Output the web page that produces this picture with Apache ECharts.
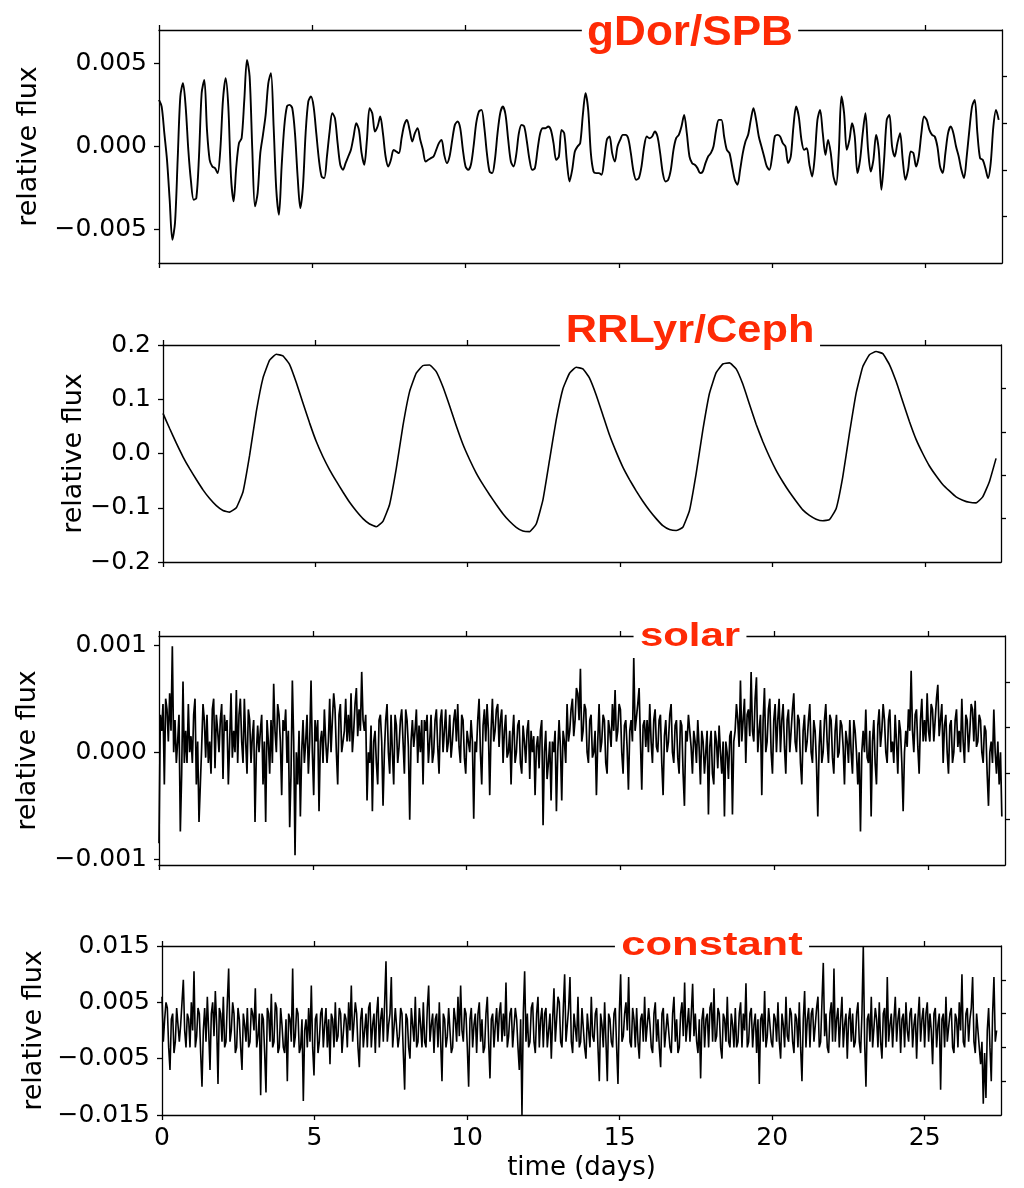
<!DOCTYPE html>
<html><head><meta charset="utf-8">
<script src="https://cdn.jsdelivr.net/npm/echarts@6/dist/echarts.min.js"></script>
<style>html,body{margin:0;padding:0;background:#fff}#c{width:1024px;height:1188px}</style>
</head><body><div id="c"></div>
<script>
// ---------------- data ----------------
const xTickValues = [0, 5, 10, 15, 20, 25];
const panelTitles = ['gDor/SPB', 'RRLyr/Ceph', 'solar', 'constant'];
const yTickValues = [
  [-0.005, 0, 0.005],
  [-0.2, -0.1, 0, 0.1, 0.2],
  [-0.001, 0, 0.001],
  [-0.015, -0.005, 0.005, 0.015]
];
const yLabelDigits = [3, 1, 3, 3];
const yRanges = [[-0.007, 0.007], [-0.2, 0.2], [-0.001052, 0.001085], [-0.015, 0.015]];

// gDor/SPB light curve (relative flux, in parts per thousand), cadence in days
const gdorStepDays = 0.08696;
const gdorFluxPpt = [
  2.8, 2.4, 0.8, -0.8, -3.2, -5.6, -4.6, -0.8, 3.0, 3.8,
  2.4, -0.2, -2.1, -3.2, -3.1, -0.6, 3.2, 4.0, 1.0, -0.8,
  -1.2, -1.3, -1.6, -0.2, 2.8, 4.1, 2.4, -1.8, -3.3, -1.2,
  0.2, 0.5, 2.8, 5.2, 4.2, -0.2, -3.6, -2.8, -0.4, 0.7,
  1.9, 3.8, 4.4, 1.2, -2.6, -4.1, -1.2, 1.2, 2.4, 2.5,
  2.3, 0.8, -1.8, -3.7, -2.4, 0.8, 2.7, 3.0, 2.4, 0.8,
  -0.8, -1.8, -1.9, -0.6, 0.9, 2.0, 1.7, 0.2, -1.1, -1.4,
  -1.0, -0.6, -0.2, 0.6, 1.4, 1.0, -0.4, -1.1, 0.4, 2.3,
  2.0, 0.9, 1.2, 1.8, 0.8, -0.6, -1.2, -0.8, -0.2, -0.3,
  -0.4, 0.5, 1.3, 1.6, 1.0, 0.3, 0.8, 1.1, 0.4, -0.2,
  -0.9, -0.8, -0.7, -0.6, -0.2, 0.2, 0.4, -0.5, -1.0, -0.6,
  0.4, 1.3, 1.5, 1.1, -0.2, -1.2, -1.4, -1.1, 0.0, 1.4,
  2.1, 2.2, 1.2, -0.4, -1.5, -1.6, -0.8, 0.8, 2.0, 2.4,
  1.9, 0.4, -0.9, -1.2, -0.5, 0.8, 1.3, 1.2, 0.3, -0.8,
  -1.4, -1.3, -0.2, 0.8, 1.1, 1.1, 1.2, 1.0, 0.2, -0.8,
  -0.6, 1.0, 0.8, -0.9, -2.1, -1.4, -0.3, 0.0, 0.2, 1.9,
  3.2, 2.2, -0.4, -1.5, -1.6, -1.6, -1.7, -0.8, 0.4, 0.6,
  -0.4, -0.9, 0.0, 0.4, 0.7, 0.7, 0.5, -0.4, -1.5, -2.0,
  -1.9, -1.2, 0.0, 0.6, 0.5, 0.6, 0.9, 0.6, -0.4, -1.6,
  -2.1, -2.0, -1.4, -0.2, 0.5, 0.7, 1.2, 1.9, 0.8, -0.6,
  -1.0, -1.1, -1.3, -1.6, -1.5, -1.0, -0.6, -0.4, 0.0, 1.0,
  1.6, 1.6, 0.6, -0.2, -0.4, -1.2, -2.0, -2.3, -1.4, -0.4,
  0.3, 0.7, 1.6, 2.3, 1.6, 0.6, 0.0, -0.6, -1.2, -1.4,
  -0.6, 0.6, 0.7, 0.6, 0.2, 0.0, -1.0, -0.6, 1.2, 2.4,
  1.8, 0.4, -0.2, -0.1, -1.1, -1.8, -0.6, 1.6, 2.2, 0.8,
  -0.5, 0.4, -0.4, -1.8, -2.3, -0.4, 3.0, 2.0, -0.2, 0.4,
  1.4, 0.6, -1.6, -0.8, 0.8, 2.0, -0.2, -1.5, -0.8, 0.7,
  -0.2, -2.6, -0.8, 1.6, 1.9, 0.0, -0.6, 0.2, 0.8, -0.8,
  -2.0, -1.4, -0.3, -0.4, -1.2, -0.6, 0.8, 1.8, 1.6, 1.0,
  0.7, 0.6, 0.0, -1.2, -1.6, -0.4, 0.8, 1.2, 0.8, 0.0,
  -0.6, -1.4, -1.9, -0.6, 1.0, 2.4, 2.8, 0.8, -0.7, -0.8,
  -1.3, -1.9, -1.0, 1.2, 2.2, 1.6
];

// RRLyr/Ceph light curve (relative flux)
const rrlyrStepDays = 0.2187;
const rrlyrFlux = [
  0.074, 0.046, 0.019, -0.006, -0.028, -0.048, -0.067, -0.083, -0.096, -0.105,
  -0.108, -0.100, -0.071, -0.003, 0.077, 0.139, 0.172, 0.183, 0.180, 0.164,
  0.131, 0.093, 0.056, 0.022, -0.006, -0.030, -0.051, -0.071, -0.090, -0.106,
  -0.120, -0.130, -0.135, -0.125, -0.094, -0.028, 0.051, 0.114, 0.148, 0.162,
  0.163, 0.151, 0.123, 0.088, 0.051, 0.017, -0.011, -0.036, -0.057, -0.076,
  -0.094, -0.111, -0.125, -0.136, -0.143, -0.144, -0.130, -0.086, -0.012, 0.062,
  0.119, 0.148, 0.159, 0.156, 0.139, 0.108, 0.071, 0.034, 0.003, -0.025,
  -0.048, -0.069, -0.088, -0.105, -0.120, -0.133, -0.140, -0.142, -0.136, -0.105,
  -0.037, 0.043, 0.111, 0.149, 0.165, 0.167, 0.156, 0.128, 0.091, 0.054,
  0.022, -0.006, -0.031, -0.052, -0.071, -0.088, -0.104, -0.114, -0.121, -0.124,
  -0.122, -0.102, -0.043, 0.037, 0.111, 0.160, 0.182, 0.188, 0.184, 0.164,
  0.133, 0.096, 0.059, 0.026, 0.000, -0.023, -0.041, -0.057, -0.069, -0.080,
  -0.086, -0.090, -0.091, -0.080, -0.052, -0.009
];

// solar-like light curve (relative flux, in parts per thousand)
const solarStepDays = 0.04335;
const solarFluxPpt = [
  -0.85, 0.35, 0.2, 0.45, -0.3, 0.5, 0.4, 0.1, 0.55, 0.2, 0.99, 0.0, 0.3, -0.1, 0.1, 0.35, -0.74, -0.2, 0.66, -0.1, 0.2, -0.1, 0.45, 0.0, 0.15, -0.1, 0.35, 0.5, -0.3, 0.1, -0.65, -0.3, 0.05, 0.45, 0.3, -0.05, 0.35, -0.1, 0.1, -0.2, 0.4, 0.5, -0.15, 0.35, 0.2, 0.0, 0.3, 0.45, -0.25, 0.35,
  0.2, 0.3, -0.3, 0.1, 0.55, -0.05, 0.2, 0.0, 0.58, -0.1, 0.35, 0.5, 0.1, -0.1, 0.5, 0.1, -0.2, 0.4, 0.3, -0.1, 0.15, 0.3, -0.65, 0.0, 0.25, 0.0, 0.2, 0.35, -0.3, 0.1, -0.65, 0.3, 0.1, -0.2, 0.3, -0.1, 0.64, 0.2, 0.0, 0.45, 0.35, 0.1, -0.4, 0.3, 0.2, 0.4, -0.1, 0.2, -0.7, -0.2,
  0.67, 0.1, -0.96, 0.0, -0.3, 0.2, -0.6, 0.0, 0.3, -0.1, 0.1, 0.35, -0.2, 0.1, 0.67, 0.0, -0.4, 0.3, 0.1, 0.3, -0.55, 0.1, 0.2, -0.1, 0.4, 0.1, -0.1, 0.1, 0.5, 0.0, 0.3, 0.55, 0.4, 0.0, -0.3, 0.35, 0.45, 0.0, 0.1, 0.2, 0.5, 0.1, 0.35, 0.1, 0.55, 0.0, 0.2, 0.45, 0.6, 0.15,
  0.4, 0.2, 0.75, 0.3, 0.2, 0.35, -0.45, 0.0, -0.1, 0.25, -0.55, 0.1, 0.2, -0.1, -0.3, 0.3, 0.35, 0.1, -0.5, 0.0, 0.3, 0.45, 0.0, -0.2, 0.35, 0.0, -0.3, 0.35, 0.25, -0.1, 0.05, 0.3, 0.4, 0.1, -0.2, 0.4, 0.3, 0.05, -0.63, 0.1, 0.3, 0.05, 0.2, 0.4, -0.1, 0.25, 0.0, 0.3, -0.3, 0.3,
  0.2, 0.35, -0.1, 0.1, 0.35, -0.1, 0.0, 0.3, 0.4, 0.05, -0.2, 0.3, 0.4, 0.0, 0.2, 0.4, 0.0, 0.1, 0.35, -0.05, 0.1, 0.3, 0.4, 0.1, 0.45, 0.05, -0.1, 0.35, 0.3, -0.05, -0.2, 0.2, 0.1, 0.0, 0.3, 0.1, -0.62, 0.1, 0.0, 0.3, 0.5, 0.0, -0.3, 0.25, 0.4, 0.1, 0.45, 0.2, -0.4, 0.2,
  0.5, 0.1, 0.2, 0.4, 0.45, 0.05, 0.3, 0.4, -0.1, 0.2, 0.35, -0.05, 0.0, 0.2, -0.3, 0.15, 0.35, -0.1, 0.0, 0.25, 0.3, -0.1, -0.2, 0.25, 0.1, -0.1, 0.2, 0.3, -0.25, 0.2, 0.0, 0.15, -0.4, 0.05, 0.15, -0.15, 0.2, 0.3, -0.68, 0.0, 0.2, -0.25, -0.1, 0.1, -0.45, 0.1, 0.0, 0.2, -0.55, 0.0,
  0.3, 0.05, -0.45, 0.2, 0.1, -0.1, 0.45, 0.1, 0.2, 0.4, 0.5, 0.15, 0.3, 0.6, 0.55, 0.3, 0.78, 0.1, 0.2, 0.45, 0.4, 0.0, -0.1, 0.3, 0.35, -0.05, 0.0, 0.2, -0.4, 0.1, 0.45, 0.0, 0.1, 0.35, 0.3, -0.1, -0.2, 0.3, 0.2, 0.05, 0.45, 0.2, 0.58, 0.1, 0.2, 0.45, 0.4, 0.0, -0.2, 0.25,
  0.3, 0.05, -0.35, 0.2, 0.3, 0.1, 0.88, 0.2, 0.2, 0.45, 0.6, 0.1, -0.35, 0.25, 0.3, 0.05, 0.3, 0.0, 0.45, 0.1, -0.1, 0.3, 0.4, 0.05, 0.0, 0.3, 0.35, -0.1, -0.4, 0.15, 0.3, 0.0, 0.1, 0.35, 0.45, 0.0, -0.1, 0.25, 0.3, -0.05, -0.2, 0.3, 0.25, -0.2, -0.5, 0.2, 0.1, 0.35, 0.2, 0.05,
  -0.2, 0.2, 0.1, -0.1, 0.3, 0.05, -0.3, 0.2, 0.1, -0.2, 0.0, 0.2, -0.58, 0.05, 0.2, -0.2, -0.3, 0.2, 0.1, -0.15, 0.25, 0.0, -0.2, 0.1, -0.6, 0.1, 0.0, -0.25, 0.15, 0.2, -0.58, 0.1, 0.2, 0.45, 0.3, 0.05, 0.67, 0.1, 0.3, 0.5, -0.1, 0.35, 0.4, 0.15, 0.75, 0.2, 0.1, 0.5, 0.7, 0.0,
  0.2, 0.35, -0.4, 0.3, 0.6, 0.0, 0.1, 0.4, 0.5, 0.0, -0.2, 0.3, 0.45, 0.0, 0.3, 0.5, 0.0, 0.3, 0.45, 0.05, -0.2, 0.3, 0.4, 0.0, 0.2, 0.4, 0.55, 0.1, 0.0, 0.35, 0.3, -0.1, -0.3, 0.2, 0.35, 0.0, 0.1, 0.3, 0.45, 0.0, -0.1, 0.3, 0.2, -0.1, -0.6, 0.05, 0.3, -0.1, 0.0, 0.3,
  0.45, 0.1, -0.1, 0.35, 0.3, -0.05, -0.2, 0.2, 0.35, -0.05, 0.0, 0.3, 0.25, 0.05, -0.3, 0.2, 0.1, -0.1, 0.3, 0.0, -0.2, 0.3, 0.2, 0.0, -0.3, 0.0, -0.74, 0.0, 0.2, 0.0, 0.4, -0.05, -0.1, 0.2, -0.6, 0.1, 0.3, -0.1, -0.3, 0.25, 0.4, 0.05, 0.2, 0.45, 0.3, 0.0, -0.1, 0.3, 0.4, 0.0,
  0.1, -0.1, 0.35, 0.1, -0.2, 0.3, 0.2, -0.1, -0.55, 0.0, 0.2, 0.05, 0.4, 0.2, 0.76, 0.2, 0.0, 0.35, 0.4, 0.05, -0.2, 0.3, 0.5, 0.1, 0.3, 0.1, 0.55, 0.2, 0.1, 0.45, 0.4, 0.1, 0.3, 0.5, 0.63, 0.15, 0.3, 0.45, -0.1, 0.25, 0.35, 0.0, -0.2, 0.25, 0.3, -0.1, 0.0, 0.3, 0.4, 0.05,
  0.2, 0.0, 0.5, 0.1, -0.1, 0.35, 0.3, 0.0, 0.2, 0.45, 0.4, 0.1, 0.48, 0.05, 0.1, 0.35, 0.3, 0.0, -0.1, 0.25, 0.2, -0.2, -0.5, 0.0, 0.1, -0.1, 0.4, 0.0, -0.2, 0.1, -0.3, 0.0, -0.6
];

// constant star light curve (relative flux, in parts per thousand)
const constStepDays = 0.0437;
const constFluxPpt = [
  6, -2, 2, 5, 4, -3, -7, 2, 3, -4, -2, 4, 4, -2, 1, 5, 9, 0, -3, 3, 2, -3, 5, 0, 10.5, -3, -1, 4, 3, -4, -10, 0, 4, -2, 6, 0, -7, 3, 5, -1,
  7, 1, -9.5, 4, 3, -2, 6, -3, -2, 5, 11, -2, 0, 5, 3, -4, -3, 4, 2, -3, -7, 3, 1, -2, 4, -3, -2, 4, 3, 0, 7.5, -3, -1, 3, -11.5, 3, 2, -4, -11, 4,
  3, -2, 6.5, -3, -2, 5, 4, -4, -3, 4, 1, -3, -4, 2, -9, 3, 2, -2, 11, -3, -1, 4, 3, -4, -3, 2, -12.5, 0, 2, -3, 4, -2, 8, -3, -8, 2, 3, -4, -2, 3,
  4, -3, 1, 4, -3, 2, -6, 3, 2, -3, 5, -2, -1, 4, 3, -4, -4, 3, 2, -3, 5, 0, 8, -2, -2, 5, 3, -3, -6.5, 2, 4, -3, 0, 3, -3, 4, 5, -3, 1, 3,
  -4, 3, 6, -3, 2, 4, -2, 5, 12.3, -2, 1, 3, 9.5, -3, -3, 4, 4, -3, -1, 4, 3, -4, -10.5, 3, 2, -3, -5, 4, 4, -2, 6, -3, -2, 4, 1, -3, 5, -2, -3, 4,
  8, -2, 1, 3, -4, 2, 3, -3, 5, -2, -9, 3, 2, -3, -1, 4, 4, -4, -3, 4, 2, -2, 6, -1, 8, 0, -2, 4, 3, -3, -10, 2, 4, -3, 1, 3, -4, 3, 5, -2,
  2, -4, -3, 3, 6, -2, -8.5, 2, 3, -3, 1, 4, -2, 3, 5, -2, 3, -1, 8.5, -3, -1, 3, 4, -3, -3, 4, 2, -3, -7, 2, -15, 3, 10.5, -2, 3, -3, -2, 4, 5, -2,
  -4, 3, 6, -3, 2, 4, -3, 3, 4, -3, 0, 3, -5, 2, 7.5, -2, 2, 6, 5, -2, -3, 4, 10, -2, 1, 4, 9.5, -2, -4, 3, 3, -2, 6, -3, -2, 4, 4, -3, -5, 3,
  3, -3, 6, -1, -2, 3, 4, -3, -9, 3, 1, -3, 5, -2, -9, 3, 2, -2, -3, 3, 4, -3, -9.5, 3, 10, -2, -1, 3, 5, 0, 9.5, -2, -3, 4, 2, -3, 4, -2, -5, 2,
  3, -2, 6, -2, -2, 4, 1, -3, -4, 3, 5, -2, 2, -3, -6.5, 3, 4, -3, 0, 3, 3, -3, -4, 3, 6, -2, 2, -4, -3, 3, 5, -1, 8.5, -2, 1, 4, -2, 3, 8.3, -1,
  3, -2, -4, 2, -8.5, 2, 4, -3, 2, 3, -3, 4, 5, -2, 7.5, -2, -1, 4, 3, -3, -5, 3, 2, -2, 6, -2, -3, 3, 1, -3, 4, -3, -2, 3, 5, -3, 3, 0, 8.4, -3,
  -2, 3, 4, -3, 1, 3, -4, 2, -9.5, 2, 3, -2, 7, -3, -1, 4, 4, -2, -3, 3, 2, -2, 5, -2, -5, 3, 1, -3, 6, -1, -2, 4, 3, -2, -4, 3, 2, -3, 5, -3,
  -9, 2, 7, -3, 2, 4, -3, 3, 4, -2, 1, 4, 6, -3, -2, 5, 12, -1, 3, -3, -4, 3, 5, -2, 11, -2, 2, 4, -3, 2, 6, -3, 1, 3, -5, 2, 4, -2, 3, -3,
  -2, 3, 5, -2, -4, 3, 15, -2, -10, 2, 3, -2, 6, -3, -3, 4, 2, -3, 5, -2, -5, 3, 4, -3, 9.5, -2, 1, 3, -3, 2, 6, -2, 2, 4, -4, 2, 3, -3, 5, 0,
  -2, 3, 4, -3, 1, 3, -5, 2, 6, -2, 2, 4, -3, 3, 5, -2, 3, 0, -6, 3, 4, -3, 1, 3, -10.5, 2, 3, -3, 6, -2, -2, 3, 4, -3, -4, 3, 2, -3, 5, 0,
  10, -2, -3, 3, 4, -2, 2, 4, 9.5, -2, -4, 3, 3, -3, -6, -2, -13, -4, -12, 0, 4, -3, -9, 3, 9.5, -2, 0
];

// ---------------- build ----------------
function toPairs(values, step, scale) {
  return values.map((v, i) => [+(i * step).toFixed(4), v * scale]);
}
const seriesData = [
  toPairs(gdorFluxPpt, gdorStepDays, 1e-3),
  toPairs(rrlyrFlux, rrlyrStepDays, 1),
  toPairs(solarFluxPpt, solarStepDays, 1e-3),
  toPairs(constFluxPpt, constStepDays, 1e-3)
];

const grids = [
  { left: 159, top: 30, width: 843, height: 233 },
  { left: 163, top: 345, width: 838, height: 217 },
  { left: 159, top: 636, width: 846, height: 229 },
  { left: 162, top: 946, width: 839, height: 169 }
];
const nameGaps = [117, 76, 118, 115];
const lineWidths = [1.9, 1.6, 1.7, 1.6];
const smoothing = [0.3, 0.12, false, false];
const titleStyle = [
  { x: 690, y: 33, size: 42, sx: 1.05 },
  { x: 690, y: 332, size: 38, sx: 1.14 },
  { x: 690, y: 637, size: 33, sx: 1.27 },
  { x: 712, y: 946, size: 34, sx: 1.28 }
];

const black = '#000';
const lineCfg = { show: true, onZero: false, lineStyle: { color: black, width: 1.3 } };
const tickBase = { show: true, inside: false, length: 5, lineStyle: { color: black, width: 1.3 } };
const labelFont = { fontFamily: 'DejaVu Sans', fontSize: 25, color: black };

const option = {
  animation: false,
  backgroundColor: '#fff',
  grid: grids.map(g => Object.assign({ containLabel: false, outerBoundsMode: 'none' }, g)),
  xAxis: [],
  yAxis: [],
  series: [],
  graphic: []
};

function fmt(v, d) {
  return Number(v).toFixed(d).replace('-', '\u2212');
}

for (let i = 0; i < 4; i++) {
  const last = i === 3;
  option.xAxis.push({
    type: 'value', gridIndex: i, position: 'bottom', min: 0, max: 27.5, interval: 5,
    axisLine: lineCfg,
    axisTick: Object.assign({ customValues: xTickValues }, tickBase),
    axisLabel: last ? Object.assign({ show: true, margin: 11, customValues: xTickValues,
      formatter: v => String(v) }, labelFont) : { show: false },
    splitLine: { show: false },
    name: last ? 'time (days)' : '',
    nameLocation: 'middle', nameGap: 40, nameMoveOverlap: false,
    nameTextStyle: { fontFamily: 'DejaVu Sans', fontSize: 26, color: black }
  });
  option.xAxis.push({
    type: 'value', gridIndex: i, position: 'top', min: 0, max: 27.5, interval: 5,
    axisLine: lineCfg,
    axisTick: Object.assign({ customValues: xTickValues }, tickBase),
    axisLabel: { show: false }, splitLine: { show: false }
  });
  const d = yLabelDigits[i];
  option.yAxis.push({
    type: 'value', gridIndex: i, position: 'left',
    min: yRanges[i][0], max: yRanges[i][1],
    axisLine: lineCfg,
    axisTick: Object.assign({ customValues: yTickValues[i] }, tickBase),
    axisLabel: Object.assign({ show: true, margin: 12, customValues: yTickValues[i],
      formatter: v => fmt(v, d) }, labelFont),
    splitLine: { show: false },
    name: 'relative flux', nameLocation: 'middle', nameGap: nameGaps[i], nameMoveOverlap: false,
    nameTextStyle: { fontFamily: 'DejaVu Sans', fontSize: 27, color: black }
  });
  option.yAxis.push({
    type: 'value', gridIndex: i, position: 'right', min: 0, max: 5, interval: 1,
    axisLine: lineCfg,
    axisTick: Object.assign({ customValues: [1, 2, 3, 4] }, tickBase),
    axisLabel: { show: false }, splitLine: { show: false }
  });
  option.series.push({
    type: 'line', xAxisIndex: 2 * i, yAxisIndex: 2 * i,
    data: seriesData[i], showSymbol: false, symbol: 'none',
    smooth: smoothing[i], sampling: null,
    lineStyle: { color: black, width: lineWidths[i] },
    clip: true
  });
  const ts = titleStyle[i];
  option.graphic.push({
    type: 'text', x: ts.x, y: ts.y, scaleX: ts.sx, z: 100,
    style: {
      text: panelTitles[i], fill: '#fe2a05',
      fontFamily: 'Liberation Sans', fontWeight: 'bold', fontSize: ts.size,
      align: 'center', verticalAlign: 'middle',
      backgroundColor: '#fff', padding: [0, 5, 0, 5]
    }
  });
}

const chart = echarts.init(document.getElementById('c'), null, { renderer: 'canvas' });
chart.setOption(option);
</script>
</body></html>
